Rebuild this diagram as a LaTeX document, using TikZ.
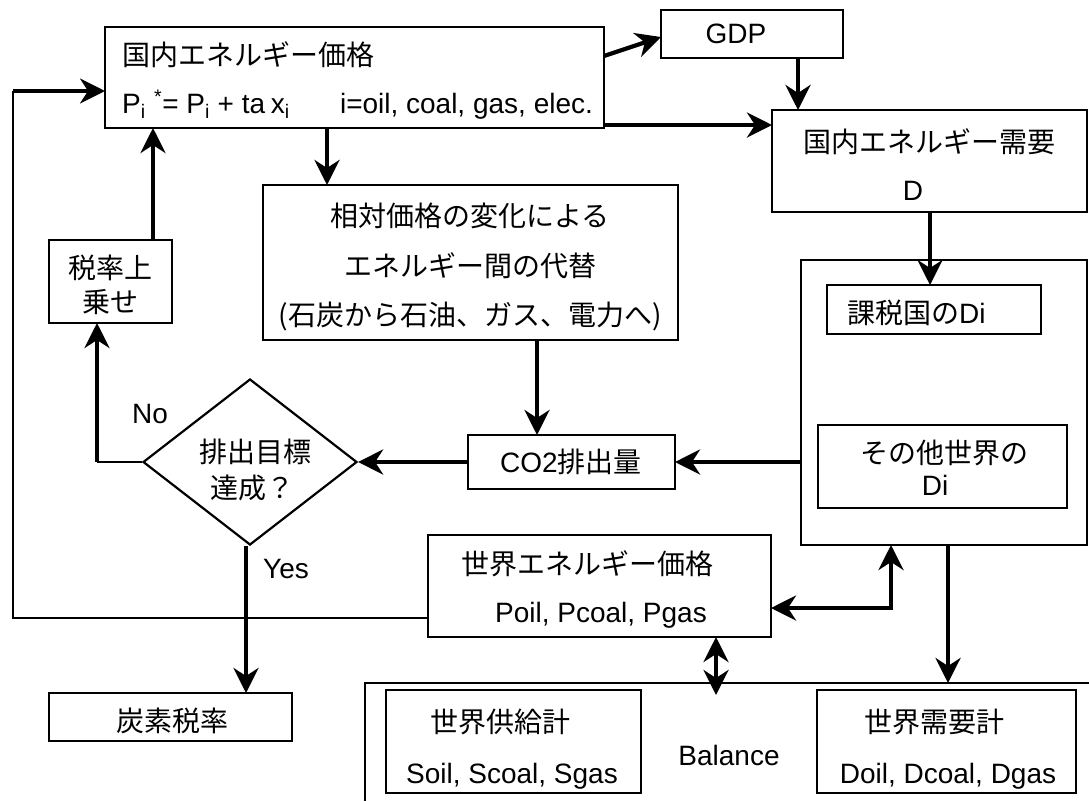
\documentclass[tikz,border=0pt]{standalone}
\usepackage{fontspec}
\setmainfont{Liberation Sans}
\newfontfamily\jp{Noto Sans CJK JP}
\usetikzlibrary{arrows.meta,shapes.geometric,calc}
\newcommand\fsz{\fontsize{28}{34}\selectfont}
\begin{document}
\begin{tikzpicture}[x=1pt,y=-1pt,
  bx/.style={draw, line width=2.2pt, inner sep=0pt, outer sep=0pt, anchor=north west},
  tl/.style={inner sep=0pt, font=\fsz},
  jl/.style={inner sep=0pt, font=\fsz\jp},
  arr/.style={line width=4.2pt, -{Stealth[length=25pt,width=25pt,inset=8pt]}},
  darr/.style={line width=4.2pt, line join=miter, {Stealth[length=25pt,width=25pt,inset=8pt]}-{Stealth[length=25pt,width=25pt,inset=8pt]}},
  thinl/.style={line width=2pt},
]
\fill[white] (0,0) rectangle (1089,801);
\useasboundingbox (0,0) rectangle (1089,801);

% boxes
\node[bx, minimum width=499pt, minimum height=101pt] (p) at (105,27) {};
\node[bx, minimum width=182pt, minimum height=48pt] (gdp) at (661,10) {};
\node[bx, minimum width=315pt, minimum height=102pt] (dem) at (772,110) {};
\node[bx, minimum width=415pt, minimum height=155pt] (sub) at (263,185) {};
\node[bx, minimum width=123pt, minimum height=83pt] (tax) at (49,240) {};
\node[draw, diamond, line width=2.2pt, inner sep=0pt, minimum width=214pt, minimum height=166pt] (dia) at (250,462) {};
\node[bx, minimum width=207pt, minimum height=54pt] (co2) at (468,435) {};
\node[bx, minimum width=286pt, minimum height=285pt] (big) at (801,260) {};
\node[bx, minimum width=214pt, minimum height=49pt] (kaz) at (827,285) {};
\node[bx, minimum width=249pt, minimum height=83pt] (oth) at (818,425) {};
\node[bx, minimum width=343pt, minimum height=102pt] (wp) at (428,535) {};
\node[bx, minimum width=243pt, minimum height=48pt] (ctax) at (49,693) {};
\node[bx, minimum width=255pt, minimum height=103pt] (sup) at (386,690) {};
\node[bx, minimum width=259pt, minimum height=103pt] (dtot) at (817,690) {};

% texts
\node[jl, anchor=west] (t1) at (122,55) {国内エネルギー価格};
\node[tl, anchor=base west] (t2) at (122,113) {P\textsubscript{i}\hspace{0.3em}\textsuperscript{*}= P\textsubscript{i} + ta\hspace{0.2em}x\textsubscript{i}\hspace{1.8em}i=oil, coal, gas, elec.};
\node[tl, anchor=base] (t3) at (736,43) {GDP};
\node[jl] (t4) at (929,142) {国内エネルギー需要};
\node[tl, anchor=base] (t5) at (913,200) {D};
\node[jl] (t6) at (470,216) {相対価格の変化による};
\node[jl] (t7) at (470,266) {エネルギー間の代替};
\node[jl] (t8) at (470,316) {(石炭から石油、ガス、電力へ)};
\node[jl] (t9) at (110,268) {税率上};
\node[jl] (t10) at (110,302) {乗せ};
\node[jl] (t11) at (255,452) {排出目標};
\node[jl] (t12) at (252,488) {達成？};
\node[tl, anchor=base] (t13) at (150,423) {No};
\node[tl, anchor=base west] (t14) at (263,578) {Yes};
\node[tl, anchor=base] (t15) at (571,472) {CO2{\jp 排出量}};
\node[tl, anchor=base west] (t16) at (847,323) {{\jp 課税国の}Di};
\node[jl] (t17) at (944,453) {その他世界の};
\node[tl, anchor=base] (t18) at (935,495) {Di};
\node[jl] (t19) at (587,564) {世界エネルギー価格};
\node[tl, anchor=base] (t20) at (601,622) {Poil, Pcoal, Pgas};
\node[jl] (t21) at (172,721) {炭素税率};
\node[jl] (t22) at (500,722) {世界供給計};
\node[tl, anchor=base] (t23) at (512,783) {Soil, Scoal, Sgas};
\node[jl] (t24) at (934,722) {世界需要計};
\node[tl, anchor=base] (t25) at (948,783) {Doil, Dcoal, Dgas};
\node[tl, anchor=base] (t26) at (729,765) {Balance};

% connectors
\coordinate (lb) at (13,618);
\coordinate (lt) at (13,91);
\draw[thinl] ($(wp.south west)+(0,-19)$) -- (lb) -- (lt);
\draw[arr, line width=3.2pt] (lt) -- (lt -| p.west);
\draw[arr] ($(p.north east)+(0,29)$) -- ($(gdp.north west)+(0,27)$);
\coordinate (a3) at ($(p.south east)+(0,-3)$);
\draw[arr] (a3) -- (a3 -| dem.west);
\draw[arr] (798,0 |- gdp.south) -- (798,0 |- dem.north);
\draw[arr] (327,0 |- p.south) -- (327,0 |- sub.north);
\draw[arr] (153,0 |- tax.north) -- (153,0 |- p.south);
\coordinate (no) at (97,462);
\draw[thinl] (dia.west) -- (no);
\draw[arr] (no) -- (no |- tax.south);
\draw[arr] (537,0 |- sub.south) -- (537,0 |- co2.north);
\draw[arr] (big.west |- co2.east) -- (co2.east);
\draw[arr] (co2.west) -- (dia.east);
\draw[arr] (246,0 |- dia.south) -- (246,0 |- ctax.north);
\draw[arr] (930,0 |- dem.south) -- (930,0 |- kaz.north);
\coordinate (c13) at (891,608);
\draw[darr] (wp.east |- c13) -- (c13) -- (c13 |- big.south);
\coordinate (bl) at (365,801);
\coordinate (br) at (1089,683);
\draw[thinl] (bl) -- (bl |- br) -- (br);
\coordinate (bv) at (716,695);
\draw[darr] (bv |- wp.south) -- (bv);
\draw[arr] (948,0 |- big.south) -- (948,0 |- br);
\end{tikzpicture}
\end{document}
